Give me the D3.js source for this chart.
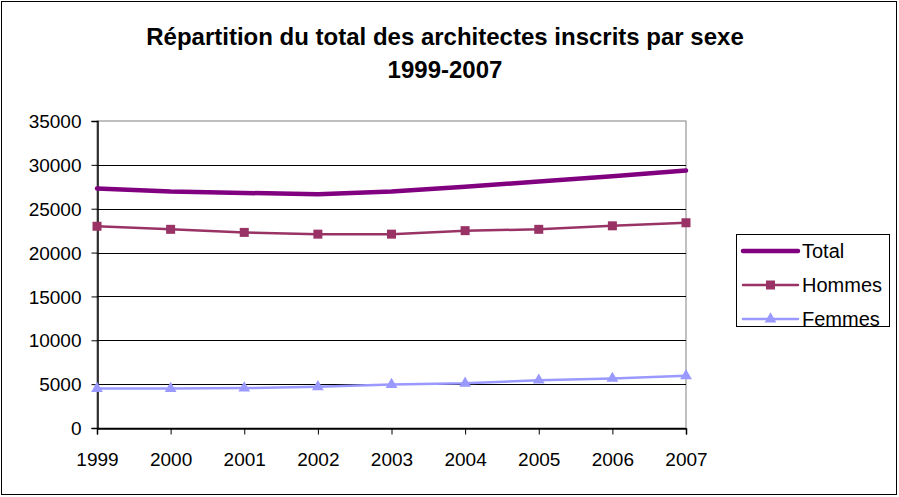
<!DOCTYPE html>
<html><head><meta charset="utf-8">
<script src="https://cdn.jsdelivr.net/npm/d3@7"></script>
<style>body{margin:0;background:#fff}svg{display:block}text{font-family:Arial,"Liberation Sans",sans-serif}</style>
</head><body><svg id="c" width="899" height="497"></svg>
<script>
const years = [1999,2000,2001,2002,2003,2004,2005,2006,2007];
const total = [27300,26950,26800,26650,26950,27500,28100,28700,29350];
const hommes = [23000,22650,22300,22100,22100,22500,22650,23050,23400];
const femmes = [4500,4500,4550,4700,4950,5100,5450,5650,5950];
const yTicks = [0,5000,10000,15000,20000,25000,30000,35000];
const seriesNames = ["Total","Hommes","Femmes"];
const titleLines = ["Répartition du total des architectes inscrits par sexe","1999-2007"];

const svg = d3.select("#c");
svg.append("rect").attr("x",1.5).attr("y",1.5).attr("width",895).attr("height",493).attr("fill","#fff").attr("stroke","#000").attr("stroke-width",1);

const L=97,R=686,T=121,B=428;
const x = d3.scalePoint().domain(years).range([L,R]);
const y = d3.scaleLinear().domain([0,35000]).range([B,T]);

svg.append("rect").attr("x",L).attr("y",T).attr("width",R-L).attr("height",B-T).attr("fill","#fff").attr("stroke","#808080").attr("stroke-width",1);
svg.append("g").selectAll("line").data(yTicks.slice(0,-1)).join("line")
  .attr("x1",L).attr("x2",R).attr("y1",d=>Math.round(y(d))+0.5).attr("y2",d=>Math.round(y(d))+0.5)
  .attr("stroke","#000").attr("stroke-width",1);

const yAxis = d3.axisLeft(y).tickValues(yTicks).tickSize(6).tickFormat(d3.format("d"));
const gy = svg.append("g").attr("transform",`translate(${L+0.5},0)`).call(yAxis);
gy.select(".domain").attr("stroke","#000").attr("stroke-width",1.5);
gy.selectAll(".tick line").attr("stroke","#000");
gy.selectAll("text").attr("font-size",19).attr("fill","#000").attr("x",-16).attr("dy","0.35em");

const xAxis = d3.axisBottom(x).tickSize(6);
const gx = svg.append("g").attr("transform",`translate(0,${B+0.5})`).call(xAxis);
gx.select(".domain").attr("stroke","#000").attr("stroke-width",1.5);
gx.selectAll(".tick line").attr("stroke","#000");
gx.selectAll("text").attr("font-size",19).attr("fill","#000").attr("y",37).attr("dy",0);

const line = d3.line().x((d,i)=>x(years[i])).y(d=>y(d));
svg.append("path").datum(total).attr("d",line).attr("fill","none").attr("stroke","#800080").attr("stroke-width",4.5).attr("stroke-linejoin","round").attr("stroke-linecap","round");
svg.append("path").datum(hommes).attr("d",line).attr("fill","none").attr("stroke","#993366").attr("stroke-width",2.5);
svg.append("g").selectAll("rect").data(hommes).join("rect")
  .attr("x",(d,i)=>x(years[i])-4.5).attr("y",d=>y(d)-4.5).attr("width",9).attr("height",9).attr("fill","#993366");
svg.append("path").datum(femmes).attr("d",line).attr("fill","none").attr("stroke","#9999FF").attr("stroke-width",2.5);
const tri = d3.symbol().type(d3.symbolTriangle).size(60);
svg.append("g").selectAll("path").data(femmes).join("path")
  .attr("d",tri).attr("transform",(d,i)=>`translate(${x(years[i])},${y(d)})`).attr("fill","#9999FF");

svg.append("g").selectAll("text").data(titleLines).join("text")
  .attr("x",445).attr("y",(d,i)=>45+i*33).attr("text-anchor","middle")
  .attr("font-size",24).attr("font-weight","bold").attr("fill","#000").text(d=>d);

const lg = svg.append("g");
lg.append("rect").attr("x",736.5).attr("y",234.5).attr("width",153).attr("height",92).attr("fill","#fff").attr("stroke","#000");
const ly = [251,285,319];
const colors = ["#800080","#993366","#9999FF"];
const widths = [4.5,2.5,2.5];
seriesNames.forEach((n,i)=>{
  lg.append("line").attr("x1",743).attr("x2",798).attr("y1",ly[i]).attr("y2",ly[i]).attr("stroke",colors[i]).attr("stroke-width",widths[i]).attr("stroke-linecap","round");
  if(i===1) lg.append("rect").attr("x",766).attr("y",ly[i]-4.5).attr("width",9).attr("height",9).attr("fill",colors[i]);
  if(i===2) lg.append("path").attr("d",tri).attr("transform",`translate(770.5,${ly[i]})`).attr("fill",colors[i]);
  lg.append("text").attr("x",802).attr("y",ly[i]).attr("dy","0.35em").attr("font-size",20).attr("fill","#000").text(n);
});
</script></body></html>
